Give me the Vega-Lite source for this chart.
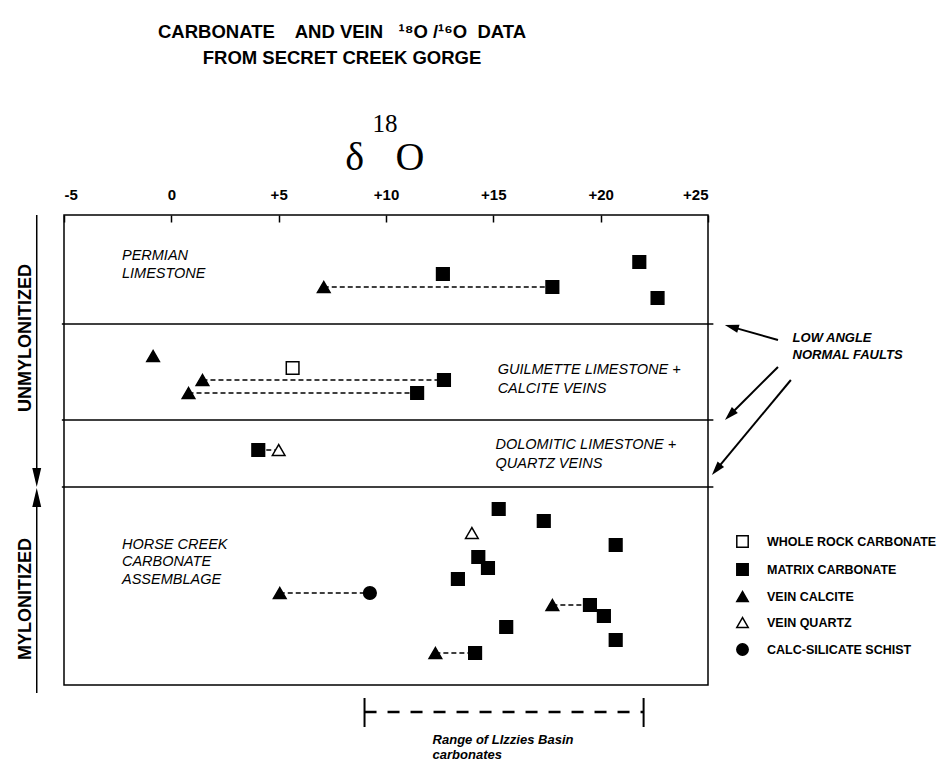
{
  "$schema": "https://vega.github.io/schema/vega-lite/v6.json",
  "width": 644,
  "height": 470,
  "autosize": {"type": "none"},
  "padding": {"left": 64, "top": 215, "right": 240, "bottom": 77},
  "background": "white",
  "config": {
    "view": {"stroke": "black", "strokeWidth": 1.5},
    "font": "Liberation Sans"
  },
  "title": {
    "text": ["CARBONATE\u00a0\u00a0\u00a0 AND VEIN\u00a0\u00a0 ¹⁸O /¹⁶O\u00a0 DATA", "FROM SECRET CREEK GORGE"],
    "font": "Liberation Sans",
    "fontSize": 18.5,
    "fontWeight": "bold",
    "color": "black",
    "anchor": "middle",
    "dx": -44,
    "lineHeight": 26,
    "offset": 45
  },
  "datasets": {
    "points": [
      {"unit": "Permian Limestone", "d18O": 7.1, "pos": 7.2, "type": "VEIN CALCITE"},
      {"unit": "Permian Limestone", "d18O": 12.65, "pos": 5.9, "type": "MATRIX CARBONATE"},
      {"unit": "Permian Limestone", "d18O": 17.75, "pos": 7.2, "type": "MATRIX CARBONATE"},
      {"unit": "Permian Limestone", "d18O": 21.8, "pos": 4.7, "type": "MATRIX CARBONATE"},
      {"unit": "Permian Limestone", "d18O": 22.65, "pos": 8.3, "type": "MATRIX CARBONATE"},
      {"unit": "Guilmette Limestone", "d18O": -0.85, "pos": 14.1, "type": "VEIN CALCITE"},
      {"unit": "Guilmette Limestone", "d18O": 5.65, "pos": 15.3, "type": "WHOLE ROCK CARBONATE"},
      {"unit": "Guilmette Limestone", "d18O": 1.45, "pos": 16.5, "type": "VEIN CALCITE"},
      {"unit": "Guilmette Limestone", "d18O": 12.7, "pos": 16.5, "type": "MATRIX CARBONATE"},
      {"unit": "Guilmette Limestone", "d18O": 0.8, "pos": 17.8, "type": "VEIN CALCITE"},
      {"unit": "Guilmette Limestone", "d18O": 11.45, "pos": 17.8, "type": "MATRIX CARBONATE"},
      {"unit": "Dolomitic Limestone", "d18O": 4.05, "pos": 23.5, "type": "MATRIX CARBONATE"},
      {"unit": "Dolomitic Limestone", "d18O": 5.0, "pos": 23.5, "type": "VEIN QUARTZ"},
      {"unit": "Horse Creek", "d18O": 15.25, "pos": 29.4, "type": "MATRIX CARBONATE"},
      {"unit": "Horse Creek", "d18O": 17.35, "pos": 30.6, "type": "MATRIX CARBONATE"},
      {"unit": "Horse Creek", "d18O": 14.0, "pos": 31.8, "type": "VEIN QUARTZ"},
      {"unit": "Horse Creek", "d18O": 20.7, "pos": 33.0, "type": "MATRIX CARBONATE"},
      {"unit": "Horse Creek", "d18O": 14.3, "pos": 34.2, "type": "MATRIX CARBONATE"},
      {"unit": "Horse Creek", "d18O": 14.75, "pos": 35.3, "type": "MATRIX CARBONATE"},
      {"unit": "Horse Creek", "d18O": 13.35, "pos": 36.4, "type": "MATRIX CARBONATE"},
      {"unit": "Horse Creek", "d18O": 5.05, "pos": 37.8, "type": "VEIN CALCITE"},
      {"unit": "Horse Creek", "d18O": 9.25, "pos": 37.8, "type": "CALC-SILICATE SCHIST"},
      {"unit": "Horse Creek", "d18O": 17.75, "pos": 39.0, "type": "VEIN CALCITE"},
      {"unit": "Horse Creek", "d18O": 19.5, "pos": 39.0, "type": "MATRIX CARBONATE"},
      {"unit": "Horse Creek", "d18O": 20.15, "pos": 40.1, "type": "MATRIX CARBONATE"},
      {"unit": "Horse Creek", "d18O": 15.6, "pos": 41.2, "type": "MATRIX CARBONATE"},
      {"unit": "Horse Creek", "d18O": 20.7, "pos": 42.5, "type": "MATRIX CARBONATE"},
      {"unit": "Horse Creek", "d18O": 12.3, "pos": 43.8, "type": "VEIN CALCITE"},
      {"unit": "Horse Creek", "d18O": 14.15, "pos": 43.8, "type": "MATRIX CARBONATE"}
    ],
    "connectors": [
      {"d18O": 7.1, "d18O_end": 17.75, "pos": 7.2},
      {"d18O": 1.45, "d18O_end": 12.7, "pos": 16.5},
      {"d18O": 0.8, "d18O_end": 11.45, "pos": 17.8},
      {"d18O": 4.05, "d18O_end": 5.0, "pos": 23.5},
      {"d18O": 5.05, "d18O_end": 9.25, "pos": 37.8},
      {"d18O": 17.75, "d18O_end": 19.5, "pos": 39.0},
      {"d18O": 12.3, "d18O_end": 14.15, "pos": 43.8}
    ],
    "dividers": [
      {"d18O": -5.1, "d18O_end": 25.25, "pos": 10.9},
      {"d18O": -5.1, "d18O_end": 25.25, "pos": 20.5},
      {"d18O": -5.1, "d18O_end": 25.25, "pos": 27.2}
    ],
    "unitLabels": [
      {"label": "PERMIAN", "d18O": -2.3, "pos": 4.1},
      {"label": "LIMESTONE", "d18O": -2.3, "pos": 5.9},
      {"label": "GUILMETTE LIMESTONE +", "d18O": 15.2, "pos": 15.5},
      {"label": "CALCITE VEINS", "d18O": 15.2, "pos": 17.35},
      {"label": "DOLOMITIC LIMESTONE +", "d18O": 15.1, "pos": 23.0},
      {"label": "QUARTZ VEINS", "d18O": 15.1, "pos": 24.85},
      {"label": "HORSE CREEK", "d18O": -2.3, "pos": 33.0},
      {"label": "CARBONATE", "d18O": -2.3, "pos": 34.7},
      {"label": "ASSEMBLAGE", "d18O": -2.3, "pos": 36.5}
    ],
    "faultLabels": [
      {"label": "LOW ANGLE", "d18O": 28.94, "pos": 12.3},
      {"label": "NORMAL FAULTS", "d18O": 28.94, "pos": 14.0}
    ],
    "faultArrows": [
      {"d18O": 28.26, "pos": 12.5, "d18O_end": 26.1, "pos_end": 11.19},
      {"d18O": 28.26, "pos": 15.2, "d18O_end": 26.02, "pos_end": 20.0},
      {"d18O": 28.86, "pos": 16.5, "d18O_end": 25.39, "pos_end": 25.46}
    ],
    "sideArrows": [
      {"d18O": -6.27, "pos": 0, "pos_end": 26.3},
      {"d18O": -6.27, "pos": 47.8, "pos_end": 28.2}
    ],
    "sideLabels": [
      {"label": "UNMYLONITIZED", "d18O": -6.77, "pos": 12.3},
      {"label": "MYLONITIZED", "d18O": -6.77, "pos": 38.4}
    ],
    "range": [
      {"d18O": 9, "d18O_end": 22, "pos": 49.7}
    ],
    "rangeEnds": [
      {"d18O": 9, "pos": 48.3, "pos_end": 51.2},
      {"d18O": 22, "pos": 48.3, "pos_end": 51.2}
    ],
    "rangeLabel": [
      {"label": "Range of LIzzies Basin", "d18O": 12.17, "pos": 52.5},
      {"label": "carbonates", "d18O": 12.17, "pos": 54.0}
    ],
    "axisTitleBase": [
      {"label": "δ", "d18O": 8.54, "pos": -4.5},
      {"label": "O", "d18O": 11.12, "pos": -4.5}
    ],
    "axisTitleSup": [
      {"label": "18", "d18O": 9.95, "pos": -8.3}
    ]
  },
  "encoding": {
    "x": {
      "field": "d18O",
      "type": "quantitative",
      "scale": {"domain": [-5, 25], "nice": false, "zero": false},
      "axis": {
        "orient": "top",
        "values": [-5, 0, 5, 10, 15, 20, 25],
        "labelExpr": "datum.value > 0 ? '+' + datum.value : '' + datum.value",
        "labelFont": "Liberation Sans",
        "labelFontSize": 15,
        "labelFontWeight": "bold",
        "labelColor": "black",
        "tickSize": -7,
        "tickColor": "black",
        "tickWidth": 1.5,
        "domain": false,
        "grid": false,
        "labelPadding": 20,
        "title": null
      }
    },
    "y": {
      "field": "pos",
      "type": "quantitative",
      "scale": {"domain": [0, 47], "reverse": true, "nice": false, "zero": false},
      "axis": null
    }
  },
  "layer": [
    {
      "data": {"name": "dividers"},
      "mark": {"type": "rule", "stroke": "black", "strokeWidth": 1.5},
      "encoding": {"x2": {"field": "d18O_end"}}
    },
    {
      "data": {"name": "connectors"},
      "mark": {"type": "rule", "stroke": "black", "strokeWidth": 1.3, "strokeDash": [5, 3]},
      "encoding": {"x2": {"field": "d18O_end"}}
    },
    {
      "data": {"name": "points"},
      "mark": {"type": "point", "filled": true, "size": 160, "strokeWidth": 1.5, "opacity": 1},
      "encoding": {
        "shape": {
          "field": "type",
          "type": "nominal",
          "scale": {
            "domain": ["WHOLE ROCK CARBONATE", "MATRIX CARBONATE", "VEIN CALCITE", "VEIN QUARTZ", "CALC-SILICATE SCHIST"],
            "range": ["square", "square", "triangle-up", "triangle-up", "circle"]
          },
          "legend": {
            "title": null,
            "orient": "none",
            "legendX": 672,
            "legendY": 320,
            "padding": 0,
            "labelFont": "Liberation Sans",
            "labelFontSize": 12.5,
            "labelFontWeight": "bold",
            "labelColor": "black",
            "labelOffset": 18,
            "labelLimit": 0,
            "symbolSize": 130,
            "symbolStrokeWidth": 1.5,
            "rowPadding": 9
          }
        },
        "fill": {
          "field": "type",
          "type": "nominal",
          "scale": {
            "domain": ["WHOLE ROCK CARBONATE", "MATRIX CARBONATE", "VEIN CALCITE", "VEIN QUARTZ", "CALC-SILICATE SCHIST"],
            "range": ["white", "black", "black", "white", "black"]
          },
          "legend": {
            "title": null,
            "orient": "none",
            "legendX": 672,
            "legendY": 320,
            "padding": 0,
            "labelFont": "Liberation Sans",
            "labelFontSize": 12.5,
            "labelFontWeight": "bold",
            "labelColor": "black",
            "labelOffset": 18,
            "labelLimit": 0,
            "symbolSize": 130,
            "symbolStrokeWidth": 1.5,
            "rowPadding": 9
          }
        },
        "stroke": {
          "field": "type",
          "type": "nominal",
          "scale": {
            "domain": ["WHOLE ROCK CARBONATE", "MATRIX CARBONATE", "VEIN CALCITE", "VEIN QUARTZ", "CALC-SILICATE SCHIST"],
            "range": ["black", "black", "black", "black", "black"]
          },
          "legend": {
            "title": null,
            "orient": "none",
            "legendX": 672,
            "legendY": 320,
            "padding": 0,
            "labelFont": "Liberation Sans",
            "labelFontSize": 12.5,
            "labelFontWeight": "bold",
            "labelColor": "black",
            "labelOffset": 18,
            "labelLimit": 0,
            "symbolSize": 130,
            "symbolStrokeWidth": 1.5,
            "rowPadding": 9
          }
        }
      }
    },
    {
      "data": {"name": "unitLabels"},
      "mark": {"type": "text", "align": "left", "baseline": "middle", "font": "Liberation Sans", "fontStyle": "italic", "fontSize": 14.5, "fill": "black"},
      "encoding": {"text": {"field": "label"}}
    },
    {
      "data": {"name": "faultLabels"},
      "mark": {"type": "text", "align": "left", "baseline": "middle", "font": "Liberation Sans", "fontStyle": "italic", "fontWeight": "bold", "fontSize": 13, "fill": "black"},
      "encoding": {"text": {"field": "label"}}
    },
    {
      "data": {"name": "faultArrows"},
      "mark": {"type": "rule", "stroke": "black", "strokeWidth": 2},
      "encoding": {"x2": {"field": "d18O_end"}, "y2": {"field": "pos_end"}}
    },
    {
      "data": {"values": [{"d18O": 26.1, "pos": 11.19}]},
      "mark": {"type": "point", "shape": "M0,-1L0.6,1L-0.6,1Z", "size": 196, "filled": true, "fill": "black", "opacity": 1, "angle": 285.8}
    },
    {
      "data": {"values": [{"d18O": 26.02, "pos": 20.0}]},
      "mark": {"type": "point", "shape": "M0,-1L0.6,1L-0.6,1Z", "size": 196, "filled": true, "fill": "black", "opacity": 1, "angle": 225}
    },
    {
      "data": {"values": [{"d18O": 25.39, "pos": 25.46}]},
      "mark": {"type": "point", "shape": "M0,-1L0.6,1L-0.6,1Z", "size": 196, "filled": true, "fill": "black", "opacity": 1, "angle": 219.7}
    },
    {
      "data": {"name": "sideArrows"},
      "mark": {"type": "rule", "stroke": "black", "strokeWidth": 1.5},
      "encoding": {"y2": {"field": "pos_end"}}
    },
    {
      "data": {"values": [{"d18O": -6.27, "pos": 26.25}]},
      "mark": {"type": "point", "shape": "M0,-1L0.47,1L-0.47,1Z", "size": 361, "filled": true, "fill": "black", "opacity": 1, "angle": 180}
    },
    {
      "data": {"values": [{"d18O": -6.27, "pos": 28.25}]},
      "mark": {"type": "point", "shape": "M0,-1L0.47,1L-0.47,1Z", "size": 361, "filled": true, "fill": "black", "opacity": 1, "angle": 0}
    },
    {
      "data": {"name": "sideLabels"},
      "mark": {"type": "text", "align": "center", "baseline": "middle", "angle": 270, "font": "Liberation Sans", "fontWeight": "bold", "fontSize": 18, "fill": "black"},
      "encoding": {"text": {"field": "label"}}
    },
    {
      "data": {"name": "range"},
      "mark": {"type": "rule", "stroke": "black", "strokeWidth": 2.5, "strokeDash": [12, 11]},
      "encoding": {"x2": {"field": "d18O_end"}}
    },
    {
      "data": {"name": "rangeEnds"},
      "mark": {"type": "rule", "stroke": "black", "strokeWidth": 2},
      "encoding": {"y2": {"field": "pos_end"}}
    },
    {
      "data": {"name": "rangeLabel"},
      "mark": {"type": "text", "align": "left", "baseline": "middle", "font": "Liberation Sans", "fontStyle": "italic", "fontWeight": "bold", "fontSize": 13, "fill": "black"},
      "encoding": {"text": {"field": "label"}}
    },
    {
      "data": {"name": "axisTitleBase"},
      "mark": {"type": "text", "align": "center", "baseline": "alphabetic", "font": "Liberation Serif", "fontSize": 40, "fill": "black"},
      "encoding": {"text": {"field": "label"}}
    },
    {
      "data": {"name": "axisTitleSup"},
      "mark": {"type": "text", "align": "center", "baseline": "alphabetic", "font": "Liberation Serif", "fontSize": 25, "fill": "black"},
      "encoding": {"text": {"field": "label"}}
    }
  ]
}
